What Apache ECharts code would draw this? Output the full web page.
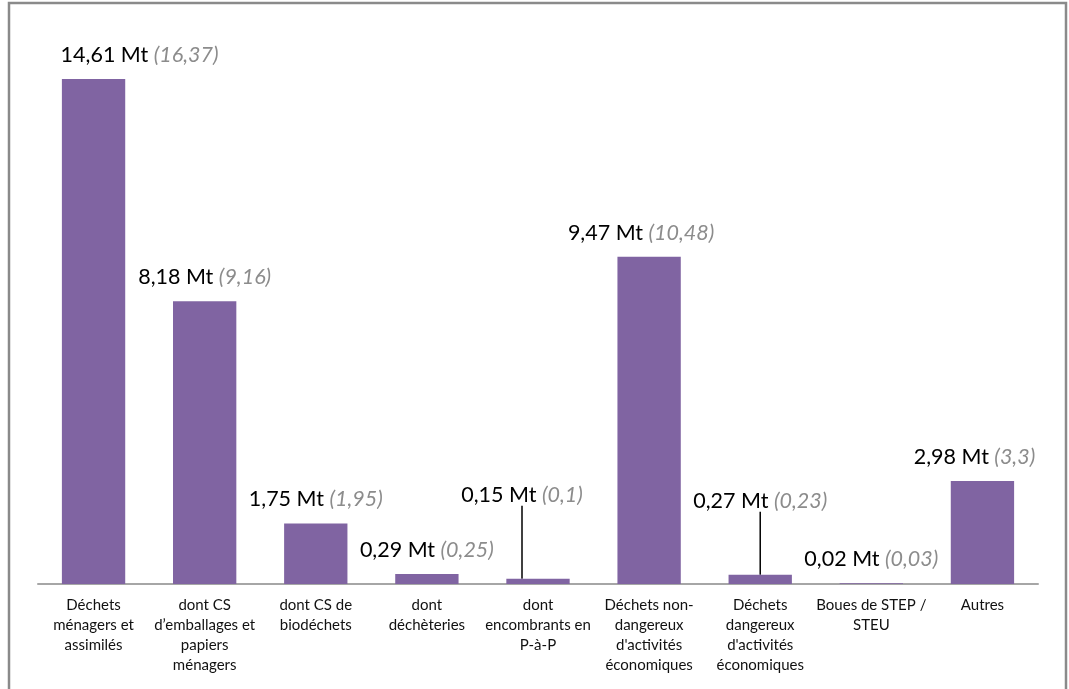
<!DOCTYPE html>
<html>
<head>
<meta charset="utf-8">
<script src="https://cdn.jsdelivr.net/npm/echarts@6/dist/echarts.min.js"></script>
<style>
html,body{margin:0;padding:0;background:#fff;}
#chart{width:1069px;height:689px;}
</style>
</head>
<body>
<div id="chart"></div>
<script>
// ---- data ----
const categories = [
  "Déchets\nménagers et\nassimilés",
  "dont CS\nd’emballages et\npapiers\nménagers",
  "dont CS de\nbiodéchets",
  "dont\ndéchèteries",
  "dont\nencombrants en\nP-à-P",
  "Déchets non-\ndangereux\nd'activités\néconomiques",
  "Déchets\ndangereux\nd'activités\néconomiques",
  "Boues de STEP /\nSTEU",
  "Autres"
];
const values = [14.61, 8.18, 1.75, 0.29, 0.15, 9.47, 0.27, 0.02, 2.98];
const previousValues = [16.37, 9.16, 1.95, 0.25, 0.1, 10.48, 0.23, 0.03, 3.3];
const unit = "Mt";

// ---- label placement (styling, not data) ----
const labelShiftX = [46, 0, 0, 0, -16, -8, 0, 0, -8];
const labelShiftY = [0, 0, 0, 0, -60, 0, -50, 0, 0];
const withLeader = [false, false, false, false, true, false, true, false, false];

const fmt = v => String(v).replace('.', ',');

const chart = echarts.init(document.getElementById('chart'));
chart.setOption({
  animation: false,
  backgroundColor: '#fff',
  graphic: [{
    type: 'rect',
    shape: { x: 9, y: 3, width: 1057, height: 720 },
    style: { fill: 'none', stroke: '#8a8a8a', lineWidth: 2.5 },
    silent: true
  }],
  grid: { left: 38, right: 31, top: 31, bottom: 105 },
  xAxis: {
    type: 'category',
    data: categories,
    axisTick: { show: false },
    axisLine: { lineStyle: { color: '#a6a6a6', width: 2 } },
    axisLabel: {
      interval: 0,
      margin: 11,
      fontFamily: 'Lato',
      fontSize: 15,
      lineHeight: 20,
      color: '#111'
    }
  },
  yAxis: { type: 'value', min: 0, max: 16, show: false, splitLine: { show: false } },
  series: [{
    type: 'bar',
    barWidth: '57%',
    itemStyle: { color: '#8064A2' },
    data: values.map((v, i) => ({
      value: v,
      labelLine: { show: withLeader[i] }
    })),
    label: {
      show: true,
      position: 'top',
      distance: 13,
      fontFamily: 'Lato',
      formatter: p => `{a|${fmt(values[p.dataIndex])} ${unit}\u00a0}{b|(${fmt(previousValues[p.dataIndex])})}`,
      rich: {
        a: { fontFamily: 'Lato', fontSize: 21.5, color: '#000' },
        b: { fontFamily: 'Lato', fontSize: 21.5, color: '#8c8c8c', fontStyle: 'italic' }
      }
    },
    labelLine: { show: false, lineStyle: { color: '#000', width: 1.5 } },
    labelLayout: p => ({ dx: labelShiftX[p.dataIndex], dy: labelShiftY[p.dataIndex] })
  }]
});
</script>
</body>
</html>
